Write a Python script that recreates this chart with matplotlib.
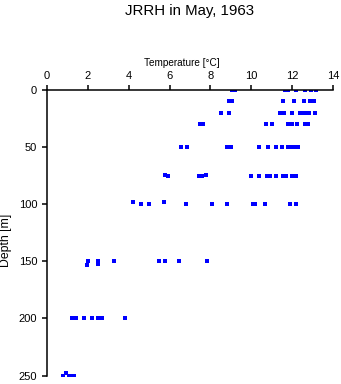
import numpy as np
import matplotlib
matplotlib.use("Agg")
import matplotlib.pyplot as plt

plt.rcParams['font.family'] = ['Liberation Sans', 'DejaVu Sans']

# temperature readings (deg C) at each sampled depth (m)
depth_0 = [0, 0, 0, 0, 0, 0, 0, 0]
temp_0 = [9.08, 9.2, 11.66, 11.78, 12.2, 12.62, 12.94, 13.16]
depth_10 = [10, 10, 10, 10, 10, 10, 10]
temp_10 = [8.9, 9.04, 11.54, 12.08, 12.57, 12.87, 13.08]
depth_20 = [20] * 10
temp_20 = [8.5, 8.92, 11.4, 11.59, 11.98, 12.38, 12.5, 12.61, 12.83, 13.1]
depth_30 = [30] * 9
temp_30 = [7.5, 7.62, 10.71, 11.0, 11.79, 12.0, 12.22, 12.61, 12.79]
depth_50 = [50] * 12
temp_50 = [6.58, 6.83, 8.79, 9.02, 10.38, 10.81, 11.2, 11.49, 11.79, 11.98, 12.18, 12.3]
depth_75 = [74, 75, 75, 75, 74, 75, 75, 75, 75, 75, 75, 75, 75, 75]
temp_75 = [5.8, 5.91, 7.42, 7.61, 7.76, 9.97, 10.4, 10.79, 10.92, 11.2, 11.56, 11.71, 11.98, 12.18]
depth_100 = [98, 100, 100, 98, 100, 100, 100, 100, 100, 100, 100, 100]
temp_100 = [4.22, 4.62, 5.01, 5.73, 6.8, 8.1, 8.79, 10.09, 10.17, 10.69, 11.89, 12.18]
depth_150 = [150, 153, 150, 152, 150, 150, 150, 150, 150]
temp_150 = [2.01, 1.96, 2.5, 2.52, 3.29, 5.5, 5.8, 6.48, 7.81]
depth_200 = [200] * 7
temp_200 = [1.2, 1.41, 1.82, 2.21, 2.51, 2.7, 3.82]
depth_250 = [250, 248, 250, 250, 250]
temp_250 = [0.79, 0.95, 1.1, 1.2, 1.31]

temps = temp_0 + temp_10 + temp_20 + temp_30 + temp_50 + temp_75 + temp_100 + temp_150 + temp_200 + temp_250
depths = depth_0 + depth_10 + depth_20 + depth_30 + depth_50 + depth_75 + depth_100 + depth_150 + depth_200 + depth_250

fig = plt.figure(figsize=(3.41, 3.84), dpi=100)
ax = fig.add_axes([47 / 341, 1 - 375.5 / 384, 286 / 341, 285.5 / 384])

ax.plot(temps, depths, linestyle='none', marker='s', markersize=2.3,
        color='#0000ff', markeredgewidth=0)

ax.set_xlim(0, 14)
ax.set_ylim(250, 0)
ax.set_xticks(np.arange(0, 15, 2))
ax.set_yticks(np.arange(0, 251, 50))

ax.xaxis.tick_top()
ax.xaxis.set_label_position('top')
ax.spines['right'].set_visible(False)
ax.spines['bottom'].set_visible(False)
ax.spines['left'].set_linewidth(1.1)
ax.spines['top'].set_linewidth(1.1)
ax.tick_params(direction='out', length=3.6, width=1.1, labelsize=8)
ax.tick_params(axis='x', pad=3.2)
ax.tick_params(axis='y', pad=3.5)

ax.set_xlabel('Temperature [\u00b0C]', fontsize=7.2, va='center')
ax.xaxis.set_label_coords(0.472, 1.0963)
ax.set_ylabel('Depth [m]', fontsize=8.8, va='center')
ax.yaxis.set_label_coords(-0.143, 0.475)
fig.text(190 / 341, 1 - 11 / 384, 'JRRH in May, 1963', ha='center', va='center', fontsize=10.8)

fig.savefig('out.png', dpi=100)
